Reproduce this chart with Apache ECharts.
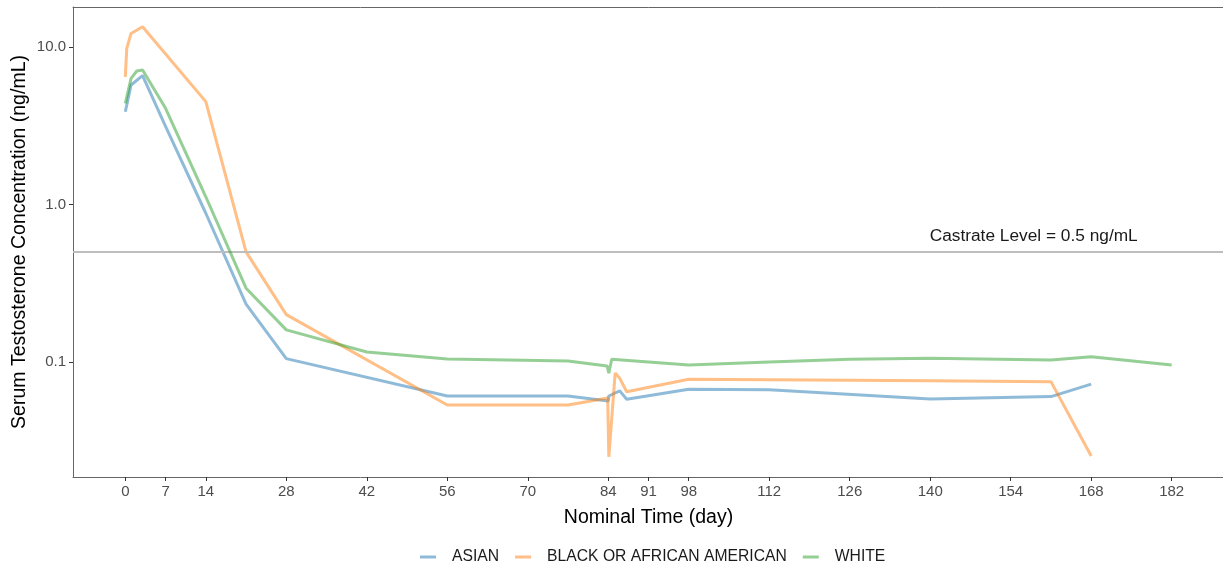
<!DOCTYPE html>
<html>
<head>
<meta charset="utf-8">
<script src="https://cdn.jsdelivr.net/npm/echarts@6/dist/echarts.min.js"></script>
<style>
html,body{margin:0;padding:0;background:#fff;}
#chart{width:1223px;height:566px;}
</style>
</head>
<body>
<div id="chart"></div>
<script>
// ---- data ----
var seriesNames = ['ASIAN', 'BLACK OR AFRICAN AMERICAN', 'WHITE'];

var asianTime = [0, 1, 3, 7, 14, 21, 28, 56, 77, 84, 84.1, 86, 87.2, 98, 112, 140, 161, 168];
var asianVal  = [3.88, 5.74, 6.58, 3.13, 0.88, 0.233, 0.105, 0.0608, 0.0608, 0.0565, 0.0608, 0.0655, 0.058, 0.0671, 0.0666, 0.0582, 0.0603, 0.0724];

var blackTime = [0, 0.25, 1, 3, 14, 21, 28, 56, 77, 83.9, 84.1, 85.2, 86, 87.2, 98, 140, 161, 168];
var blackVal  = [6.47, 9.81, 12.2, 13.45, 4.5, 0.5, 0.2, 0.0533, 0.0533, 0.059, 0.025, 0.085, 0.0787, 0.0647, 0.0776, 0.076, 0.075, 0.0253];

var whiteTime = [0, 1, 2, 3, 7, 14, 21, 28, 42, 56, 77, 83.8, 84.1, 84.6, 98, 112, 126, 140, 161, 168, 182];
var whiteVal  = [4.39, 6.33, 7.04, 7.14, 4.08, 1.12, 0.294, 0.16, 0.1157, 0.1044, 0.1014, 0.0944, 0.0848, 0.104, 0.0957, 0.1, 0.104, 0.1055, 0.103, 0.108, 0.0957];

var xTicks = [0, 7, 14, 28, 42, 56, 70, 84, 91, 98, 112, 126, 140, 154, 168, 182];
var yTicks = [0.1, 1, 10];
var castrateLevel = 0.5;
var castrateLabel = 'Castrate Level = 0.5 ng/mL';
var castrateLabelPos = [158, 0.626];

// ---- build ----
function pairs(t, v) { return t.map(function (x, i) { return [x, v[i]]; }); }
var colors = ['rgba(31,119,180,0.5)', 'rgba(255,127,14,0.5)', 'rgba(44,160,44,0.5)'];
var legendColors = ['#8fbbd9', '#ffbf86', '#95cf95'];
var datasets = [pairs(asianTime, asianVal), pairs(blackTime, blackVal), pairs(whiteTime, whiteVal)];
var FONT = '"Liberation Sans", Arial, sans-serif';
var X_MIN = -9.1, X_MAX = 191.1;

var series = [{
  type: 'line',
  data: [],
  silent: true,
  markLine: {
    silent: true,
    symbol: 'none',
    label: { show: false },
    lineStyle: { color: '#bebebe', width: 2, type: 'solid' },
    data: [{ yAxis: castrateLevel }]
  },
  markPoint: {
    silent: true,
    symbol: 'circle',
    symbolSize: 0,
    label: { show: true, formatter: castrateLabel, color: '#1a1a1a', fontSize: 17.3, fontFamily: FONT, position: 'inside' },
    data: [{ coord: castrateLabelPos }]
  }
}];
seriesNames.forEach(function (n, i) {
  series.push({
    name: n,
    type: 'line',
    data: datasets[i],
    showSymbol: false,
    symbol: 'none',
    lineStyle: { color: colors[i], width: 3 },
    itemStyle: { color: legendColors[i] },
    z: 3 + i
  });
});

var chart = echarts.init(document.getElementById('chart'), null, { renderer: 'canvas' });
chart.setOption({
  animation: false,
  backgroundColor: '#fff',
  grid: { left: 73, top: 7, width: 1151, height: 470, show: false, containLabel: false, outerBoundsMode: 'none' },
  legend: {
    data: seriesNames.map(function (n, i) { return { name: n, itemStyle: { color: legendColors[i] } }; }),
    left: 415,
    top: 544,
    icon: 'rect',
    itemWidth: 16,
    itemHeight: 3,
    itemGap: 16,
    textStyle: { fontFamily: FONT, fontSize: 15.7, color: '#1a1a1a', padding: [0, 0, 0, 11] }
  },
  xAxis: [{
    type: 'value',
    min: X_MIN,
    max: X_MAX,
    name: 'Nominal Time (day)',
    nameLocation: 'middle',
    nameGap: 31,
    nameMoveOverlap: false,
    nameTextStyle: { fontFamily: FONT, fontSize: 19.5, color: '#000' },
    axisLine: { show: true, onZero: false, lineStyle: { color: '#666', width: 1 } },
    axisTick: { show: true, length: 4, lineStyle: { color: '#333' }, customValues: xTicks },
    axisLabel: { customValues: xTicks, fontFamily: FONT, fontSize: 15, color: '#4d4d4d', margin: 7 },
    splitLine: { show: false }
  }, {
    type: 'value',
    position: 'top',
    min: X_MIN,
    max: X_MAX,
    axisLine: { show: true, onZero: false, lineStyle: { color: '#666', width: 1 } },
    axisTick: { show: false },
    axisLabel: { show: false },
    splitLine: { show: false }
  }],
  yAxis: {
    type: 'log',
    logBase: 10,
    min: 0.0186,
    max: 17.96,
    name: 'Serum Testosterone Concentration (ng/mL)',
    nameLocation: 'middle',
    nameGap: 43,
    nameMoveOverlap: false,
    nameTextStyle: { fontFamily: FONT, fontSize: 19.5, color: '#000' },
    axisLine: { show: true, onZero: false, lineStyle: { color: '#666', width: 1 } },
    axisTick: { show: true, length: 4, lineStyle: { color: '#333' }, customValues: yTicks },
    axisLabel: {
      customValues: yTicks, fontFamily: FONT, fontSize: 15, color: '#4d4d4d', margin: 7,
      formatter: function (v) { return Number(v).toFixed(1); }
    },
    splitLine: { show: false },
    minorSplitLine: { show: false }
  },
  series: series
});
</script>
</body>
</html>
